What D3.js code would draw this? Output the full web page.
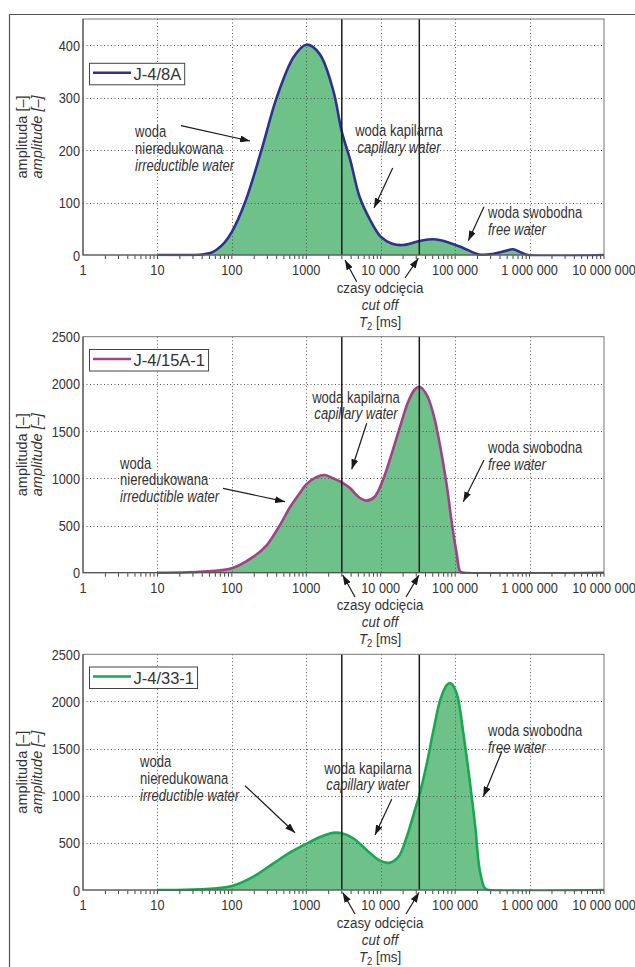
<!DOCTYPE html>
<html><head><meta charset="utf-8">
<script src="https://cdn.jsdelivr.net/npm/d3@7"></script>
<style>
body{margin:0;background:#fff;}
svg{display:block;font-family:"Liberation Sans",Arial,Helvetica,sans-serif;}
</style></head><body>
<svg id="c" width="635" height="967"></svg>
<script>
// ---------- data ----------
const xTickValues = [1, 10, 100, 1000, 10000, 100000, 1000000, 10000000];
const xTickLabels = ["1", "10", "100", "1000", "10 000", "100 000", "1 000 000", "10 000 000"];
const cutoffs = [3000, 33000];
const seriesNames = ["J-4/8A", "J-4/15A-1", "J-4/33-1"];

const t2_8A  = [10, 32, 40, 56, 79, 100, 150, 250, 400, 680, 1000, 1500, 2300, 3000, 3900, 5200, 7200, 10000, 14000, 20000, 34000, 51000, 78000, 130000, 210000, 320000, 450000, 600000, 740000, 950000, 10000000];
const amp_8A = [0, 0, 1, 6, 23, 44, 100, 200, 300, 378, 401, 384, 314, 235, 181, 111, 67, 35, 22, 19, 27, 30, 25, 13, 1, 2, 7, 11, 6, 0, 0];

const t2_15A  = [10, 37, 100, 195, 295, 450, 600, 830, 1000, 1380, 1780, 2290, 3000, 3890, 5000, 6460, 8300, 10700, 14100, 18200, 23400, 28800, 33100, 41700, 51300, 63100, 77600, 89100, 104700, 117500, 132000, 10000000];
const amp_15A = [0, 10, 46, 170, 293, 515, 690, 850, 935, 1015, 1035, 1000, 957, 894, 805, 763, 805, 982, 1265, 1547, 1811, 1943, 1970, 1882, 1671, 1335, 911, 558, 205, 10, 0, 0];

const t2_33  = [10, 37, 100, 195, 363, 600, 1000, 1510, 2290, 3000, 4270, 6460, 9770, 13200, 17400, 22400, 28800, 33100, 41700, 51300, 63100, 77600, 87100, 104700, 128800, 158500, 186200, 213800, 251200, 282000, 10000000];
const amp_33 = [0, 7, 42, 142, 283, 396, 490, 560, 606, 601, 549, 425, 311, 290, 354, 566, 849, 1008, 1345, 1699, 2017, 2176, 2194, 2088, 1663, 1133, 672, 212, 18, 0, 0];

const yTicks_8A  = [0, 100, 200, 300, 400];
const yTicks_15A = [0, 500, 1000, 1500, 2000, 2500];
const yTicks_33  = [0, 500, 1000, 1500, 2000, 2500];
const yMax = [450, 2500, 2500];

const seriesColors = ["#2e3192", "#a3408a", "#17a853"];
const fillColor = "#6fc18a";

// ---------- layout ----------
const panels = [
  {name: seriesNames[0], t2: t2_8A, amp: amp_8A, ticks: yTicks_8A, max: yMax[0], color: seriesColors[0],
   top: 19, bottom: 255, legTop: 63.3,
   irr: {x: 135, y: 137, a: [181, 125.7, 250, 141]},
   cap: {x: 399, y: 136, a: [392.7, 168, 374, 208]},
   fre: {x: 488, y: 218, a: [484, 206.7, 468.3, 240.7]},
   cut: [[356.7, 281.7, 345, 260], [405, 278, 418.3, 258.3]]},
  {name: seriesNames[1], t2: t2_15A, amp: amp_15A, ticks: yTicks_15A, max: yMax[1], color: seriesColors[1],
   top: 336.7, bottom: 572.7, legTop: 349.5,
   irr: {x: 120, y: 468.5, a: [223, 488.3, 285, 501.7]},
   cap: {x: 356, y: 402.5, a: [366.7, 423.3, 351.7, 469.3]},
   fre: {x: 488, y: 453, a: [484, 460, 463.3, 501.7]},
   cut: [[355, 597, 342.7, 575], [406, 597, 419, 575]]},
  {name: seriesNames[2], t2: t2_33, amp: amp_33, ticks: yTicks_33, max: yMax[2], color: seriesColors[2],
   top: 654.3, bottom: 890, legTop: 667,
   irr: {x: 140, y: 767, a: [245, 785.7, 295, 832.7]},
   cap: {x: 368, y: 773.5, a: [391.7, 799.3, 375, 835]},
   fre: {x: 488, y: 736, a: [501.7, 751.7, 483.3, 796.7]},
   cut: [[355, 914, 342.7, 892.5], [406, 914, 419, 892.5]]}
];

const svg = d3.select("#c");
const textCol = "#333";
const defs = svg.append("defs");
defs.append("marker").attr("id", "arr").attr("viewBox", "0 0 10 7")
  .attr("refX", 10).attr("refY", 3.5).attr("markerWidth", 10).attr("markerHeight", 7)
  .attr("markerUnits", "userSpaceOnUse").attr("orient", "auto")
  .append("path").attr("d", "M0,0 L10,3.5 L0,7 Z").attr("fill", "#1a1a1a");

// condensed text helper
function ntext(g, x, y, size, anchor, sx) {
  return g.append("text").attr("transform", `translate(${x},${y}) scale(${sx || 0.8},1)`)
    .attr("text-anchor", anchor || "start").attr("font-size", size).attr("fill", textCol);
}

// outer frame
svg.append("path").attr("d", "M9.5,967 V14.5 H635").attr("fill", "none").attr("stroke", "#555").attr("stroke-width", 1.2);

const x = d3.scaleLog().domain([1, 1e7]).range([83, 604]);
const curve = d3.curveCatmullRom.alpha(0.5);

panels.forEach((p, pi) => {
  const g = svg.append("g");
  const y = d3.scaleLinear().domain([0, p.max]).range([p.bottom, p.top]);
  const data = p.t2.map((t, i) => ({t: t, a: p.amp[i]}));

  defs.append("clipPath").attr("id", "clip" + pi).append("rect")
    .attr("x", 83).attr("y", p.top).attr("width", 521).attr("height", p.bottom - p.top + 1.3);

  // fill
  g.append("path").datum(data).attr("clip-path", `url(#clip${pi})`)
    .attr("d", d3.area().x(d => x(d.t)).y0(y(0)).y1(d => Math.min(y(0), y(d.a))).curve(curve))
    .attr("fill", fillColor);

  // grid
  const grid = g.append("g").attr("stroke", "#555").attr("stroke-width", 1).attr("stroke-dasharray", "1,2.5");
  xTickValues.slice(1, -1).forEach(v => {
    grid.append("line").attr("x1", Math.round(x(v)) + 0.5).attr("x2", Math.round(x(v)) + 0.5)
      .attr("y1", p.top).attr("y2", p.bottom);
  });
  p.ticks.filter(v => v > 0 && y(v) > p.top + 1).forEach(v => {
    grid.append("line").attr("x1", 83).attr("x2", 604)
      .attr("y1", Math.round(y(v)) + 0.5).attr("y2", Math.round(y(v)) + 0.5);
  });

  // curve
  g.append("path").datum(data).attr("clip-path", `url(#clip${pi})`)
    .attr("d", d3.line().x(d => x(d.t)).y(d => Math.min(y(0), y(d.a))).curve(curve))
    .attr("fill", "none").attr("stroke", p.color).attr("stroke-width", 2.6).attr("stroke-linejoin", "round");

  // cutoffs
  cutoffs.forEach(c => {
    g.append("line").attr("x1", x(c)).attr("x2", x(c)).attr("y1", p.top).attr("y2", p.bottom)
      .attr("stroke", "#1a1a1a").attr("stroke-width", 1.5);
  });

  // frame
  g.append("rect").attr("x", 83).attr("y", p.top).attr("width", 521).attr("height", p.bottom - p.top)
    .attr("fill", "none").attr("stroke", "#777").attr("stroke-width", 1);
  g.append("path").attr("d", `M83,${p.top} V${p.bottom} H604`).attr("fill", "none").attr("stroke", "#555").attr("stroke-width", 1.2);

  // x ticks
  const tk = g.append("g").attr("stroke", "#444").attr("stroke-width", 1);
  for (let e = 0; e < 7; e++) {
    for (let k = 1; k <= 9; k++) {
      const v = k * Math.pow(10, e);
      if (v === 1) continue;
      tk.append("line").attr("x1", x(v)).attr("x2", x(v)).attr("y1", p.bottom + 0.5).attr("y2", p.bottom + 4);
    }
  }
  tk.append("line").attr("x1", x(1e7)).attr("x2", x(1e7)).attr("y1", p.bottom + 0.5).attr("y2", p.bottom + 4);

  // x tick labels
  xTickValues.forEach((v, i) => {
    ntext(g, x(v), p.bottom + 20, 15, "middle", 0.85).text(xTickLabels[i]);
  });
  // y tick labels
  p.ticks.forEach(v => {
    ntext(g, 80, y(v) + 5.5, 15, "end", 0.85).text(v);
  });

  // y title
  const cy = (p.top + p.bottom) / 2;
  g.append("text").attr("transform", `translate(26.5,${cy}) rotate(-90)`).attr("text-anchor", "middle")
    .attr("font-size", 14.5).attr("fill", textCol).text("amplituda [–]");
  g.append("text").attr("transform", `translate(41.5,${cy}) rotate(-90)`).attr("text-anchor", "middle")
    .attr("font-size", 14.5).attr("font-style", "italic").attr("fill", textCol).text("amplitude [–]");

  // legend
  const lg = g.append("g");
  const lt = lg.append("text").attr("x", 133.5).attr("y", p.legTop + 16.5).attr("font-size", 16.5)
    .attr("fill", textCol).text(p.name);
  const tw = lt.node().getComputedTextLength();
  lg.insert("rect", "text").attr("x", 89.5).attr("y", p.legTop).attr("width", 133.5 + tw + 3.5 - 89.5).attr("height", 21.5)
    .attr("fill", "#fff").attr("stroke", "#444").attr("stroke-width", 1);
  lg.append("line").attr("x1", 93).attr("x2", 131).attr("y1", p.legTop + 9.5).attr("y2", p.legTop + 9.5)
    .attr("stroke", p.color).attr("stroke-width", 2.6);

  // annotations
  const lines = (ax, ay, arr, anchor) => {
    const t = ntext(g, ax, ay, 16.5, anchor, 0.79);
    arr.forEach((s, i) => {
      t.append("tspan").attr("x", 0).attr("dy", i === 0 ? 0 : 16.8)
        .attr("font-style", s.it ? "italic" : "normal").text(s.s);
    });
  };
  const arrow = a => g.append("line").attr("x1", a[0]).attr("y1", a[1]).attr("x2", a[2]).attr("y2", a[3])
    .attr("stroke", "#1a1a1a").attr("stroke-width", 1.2).attr("marker-end", "url(#arr)");

  lines(p.irr.x, p.irr.y, [{s: "woda"}, {s: "nieredukowana"}, {s: "irreductible water", it: true}], "start");
  arrow(p.irr.a);
  lines(p.cap.x, p.cap.y, [{s: "woda kapilarna"}, {s: "capillary water", it: true}], "middle");
  arrow(p.cap.a);
  lines(p.fre.x, p.fre.y, [{s: "woda swobodna"}, {s: "free water", it: true}], "start");
  arrow(p.fre.a);

  // below axis
  const bx = 380;
  ntext(g, bx, p.bottom + 37.5, 15.5, "middle", 0.86).text("czasy odcięcia");
  ntext(g, bx, p.bottom + 54.5, 15.5, "middle", 0.86).attr("font-style", "italic").text("cut off");
  const tt = ntext(g, bx, p.bottom + 71.5, 15.5, "middle", 0.86);
  tt.append("tspan").attr("font-style", "italic").text("T");
  tt.append("tspan").attr("font-size", 11).attr("dy", 3).text("2");
  tt.append("tspan").attr("dy", -3).text(" [ms]");
  p.cut.forEach(a => arrow(a));
});
</script>
</body></html>
